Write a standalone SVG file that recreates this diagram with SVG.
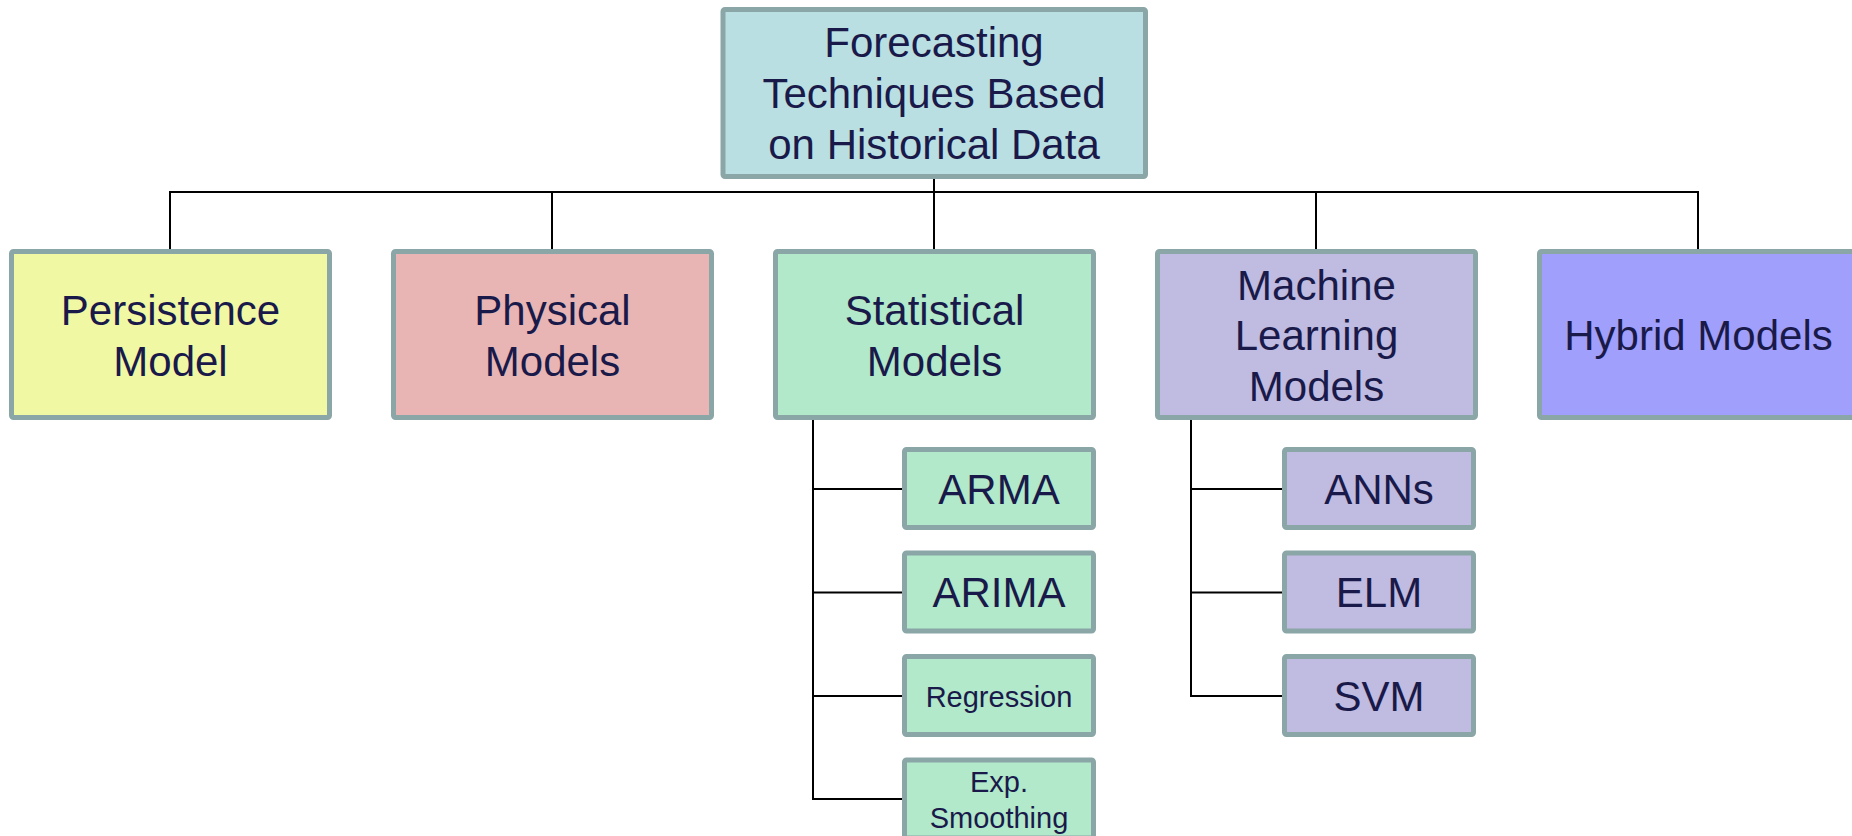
<svg xmlns="http://www.w3.org/2000/svg" width="1852" height="836" viewBox="0 0 1852 836">
  <style>
    .box { stroke: #8ba6a7; stroke-width: 5; }
    .lbl { font-family: "Liberation Sans", Arial, sans-serif; font-size: 42px; fill: #1a1a4a; text-anchor: middle; }
    .sm { font-size: 29px; }
    .wire { fill: none; stroke: #000; stroke-width: 2; }
  </style>
  <rect width="1852" height="836" fill="#fff"/>

  <!-- tree connectors -->
  <g id="connectors">
    <path class="wire" d="M934 179 V192"/>
    <path class="wire" d="M170 249 V192 H1698 V249"/>
    <path class="wire" d="M552 192 V249"/>
    <path class="wire" d="M934 192 V249"/>
    <path class="wire" d="M1316 192 V249"/>
    <!-- statistical branch -->
    <path class="wire" d="M813 420 V799 H902"/>
    <path class="wire" d="M813 489 H902"/>
    <path class="wire" d="M813 592.5 H902"/>
    <path class="wire" d="M813 696 H902"/>
    <!-- machine learning branch -->
    <path class="wire" d="M1191 420 V696 H1282"/>
    <path class="wire" d="M1191 489 H1282"/>
    <path class="wire" d="M1191 592.5 H1282"/>
  </g>

  <g id="root">
    <rect class="box" x="723" y="9.5" width="422.5" height="167" rx="2" fill="#b9dfe3"/>
    <text class="lbl" x="934" y="57">Forecasting</text>
    <text class="lbl" x="934" y="108">Techniques Based</text>
    <text class="lbl" x="934" y="158.5">on Historical Data</text>
  </g>

  <g id="persistence">
    <rect class="box" x="11.5" y="251.5" width="318" height="166" rx="2" fill="#f1f8a4"/>
    <text class="lbl" x="170.5" y="325">Persistence</text>
    <text class="lbl" x="170.5" y="375.5">Model</text>
  </g>

  <g id="physical">
    <rect class="box" x="393.5" y="251.5" width="318" height="166" rx="2" fill="#e8b5b4"/>
    <text class="lbl" x="552.5" y="325">Physical</text>
    <text class="lbl" x="552.5" y="375.5">Models</text>
  </g>

  <g id="statistical">
    <rect class="box" x="775.5" y="251.5" width="318" height="166" rx="2" fill="#b1e9ca"/>
    <text class="lbl" x="934.5" y="325">Statistical</text>
    <text class="lbl" x="934.5" y="375.5">Models</text>
  </g>

  <g id="machine-learning">
    <rect class="box" x="1157.5" y="251.5" width="318" height="166" rx="2" fill="#bfbbe1"/>
    <text class="lbl" x="1316.5" y="299.5">Machine</text>
    <text class="lbl" x="1316.5" y="350">Learning</text>
    <text class="lbl" x="1316.5" y="400.5">Models</text>
  </g>

  <g id="hybrid">
    <rect class="box" x="1539.5" y="251.5" width="318" height="166" rx="2" fill="#a09ffc"/>
    <text class="lbl" x="1698.5" y="350">Hybrid Models</text>
  </g>

  <g id="arma">
    <rect class="box" x="904.5" y="449.5" width="189" height="78" rx="2" fill="#b1e9ca"/>
    <text class="lbl" x="999" y="503.5">ARMA</text>
  </g>
  <g id="arima">
    <rect class="box" x="904.5" y="553" width="189" height="78" rx="2" fill="#b1e9ca"/>
    <text class="lbl" x="999" y="607">ARIMA</text>
  </g>
  <g id="regression">
    <rect class="box" x="904.5" y="656.5" width="189" height="78" rx="2" fill="#b1e9ca"/>
    <text class="lbl sm" x="999" y="706.5">Regression</text>
  </g>
  <g id="exp-smoothing">
    <rect class="box" x="904.5" y="760" width="189" height="78" rx="2" fill="#b1e9ca"/>
    <text class="lbl sm" x="999" y="792">Exp.</text>
    <text class="lbl sm" x="999" y="827.5">Smoothing</text>
  </g>

  <g id="anns">
    <rect class="box" x="1284.5" y="449.5" width="189" height="78" rx="2" fill="#bfbbe1"/>
    <text class="lbl" x="1379" y="503.5">ANNs</text>
  </g>
  <g id="elm">
    <rect class="box" x="1284.5" y="553" width="189" height="78" rx="2" fill="#bfbbe1"/>
    <text class="lbl" x="1379" y="607">ELM</text>
  </g>
  <g id="svm">
    <rect class="box" x="1284.5" y="656.5" width="189" height="78" rx="2" fill="#bfbbe1"/>
    <text class="lbl" x="1379" y="710.5">SVM</text>
  </g>
</svg>
